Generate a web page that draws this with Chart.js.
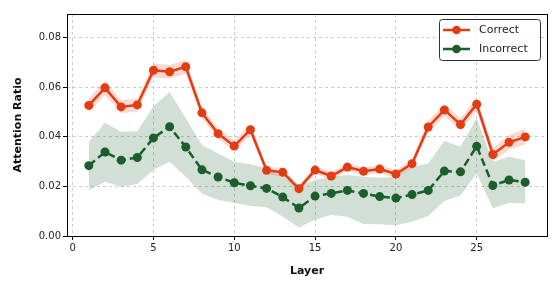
<!DOCTYPE html>
<html>
<head>
<meta charset="utf-8">
<script src="https://cdn.jsdelivr.net/npm/chart.js@4"></script>
<style>
  html, body { margin: 0; padding: 0; background: #fff; }
  #wrap { width: 560px; height: 289px; position: relative; }
</style>
</head>
<body>
<div id="wrap"><canvas id="chart"></canvas></div>
<script>
/* ── Data ─────────────────────────────────────────────────────────────── */
const layers = [1, 2, 3, 4, 5, 6, 7, 8, 9, 10, 11, 12, 13, 14, 15, 16, 17, 18, 19, 20, 21, 22, 23, 24, 25, 26, 27, 28];

const correct = [0.0527, 0.0598, 0.0521, 0.0529, 0.0669, 0.0663, 0.0683, 0.0497, 0.0413, 0.0363,
                 0.0429, 0.0265, 0.0257, 0.0191, 0.0266, 0.0242, 0.0278, 0.0261, 0.0270, 0.0250,
                 0.0292, 0.0440, 0.0509, 0.0450, 0.0532, 0.0329, 0.0378, 0.0400];
const correctUpper = [0.0555, 0.0628, 0.0547, 0.0555, 0.0697, 0.0690, 0.0711, 0.0520, 0.0435, 0.0384,
                      0.0450, 0.0281, 0.0273, 0.0205, 0.0282, 0.0258, 0.0294, 0.0277, 0.0286, 0.0266,
                      0.0310, 0.0464, 0.0534, 0.0474, 0.0558, 0.0356, 0.0408, 0.0432];
const correctLower = [0.0499, 0.0568, 0.0495, 0.0503, 0.0641, 0.0636, 0.0655, 0.0474, 0.0391, 0.0342,
                      0.0408, 0.0249, 0.0241, 0.0177, 0.0250, 0.0226, 0.0262, 0.0245, 0.0254, 0.0234,
                      0.0274, 0.0416, 0.0484, 0.0426, 0.0506, 0.0302, 0.0348, 0.0368];

const incorrect = [0.0284, 0.0339, 0.0306, 0.0317, 0.0396, 0.0441, 0.0359, 0.0267, 0.0238, 0.0215,
                   0.0203, 0.0192, 0.0157, 0.0113, 0.0161, 0.0172, 0.0184, 0.0172, 0.0159, 0.0153,
                   0.0167, 0.0184, 0.0262, 0.0259, 0.0362, 0.0204, 0.0226, 0.0217];
const incorrectUpper = [0.0380, 0.0457, 0.0421, 0.0423, 0.0524, 0.0581, 0.0475, 0.0367, 0.0333, 0.0300,
                        0.0290, 0.0273, 0.0239, 0.0199, 0.0226, 0.0239, 0.0246, 0.0239, 0.0235, 0.0239,
                        0.0280, 0.0293, 0.0384, 0.0360, 0.0475, 0.0300, 0.0320, 0.0306];
const incorrectLower = [0.0185, 0.0219, 0.0199, 0.0210, 0.0266, 0.0300, 0.0239, 0.0172, 0.0145, 0.0134,
                        0.0121, 0.0116, 0.0078, 0.0034, 0.0067, 0.0085, 0.0078, 0.0048, 0.0047, 0.0043,
                        0.0058, 0.0081, 0.0141, 0.0163, 0.0253, 0.0112, 0.0134, 0.0132];

const xTicks = [0, 5, 10, 15, 20, 25];
const yTicks = [0.00, 0.02, 0.04, 0.06, 0.08];

/* ── Style ────────────────────────────────────────────────────────────── */
const RED = '#e23c12';
const GREEN = '#1b5e2a';
const FONT = "'DejaVu Sans', sans-serif";

const pts = arr => arr.map((v, i) => ({ x: layers[i], y: v }));

function band(data, color, order) {
  return {
    data: pts(data), borderWidth: 0, borderColor: 'rgba(0,0,0,0)', pointRadius: 0, pointHoverRadius: 0,
    backgroundColor: color, fill: false, order, tension: 0,
  };
}

/* ── Plugins: frame + legend box ──────────────────────────────────────── */
const framePlugin = {
  id: 'frame',
  afterDraw(chart) {
    const { ctx, chartArea: a } = chart;
    ctx.save();
    ctx.strokeStyle = '#000';
    ctx.lineWidth = 1;
    ctx.strokeRect(Math.round(a.left) + 0.5, Math.round(a.top) + 0.5,
                   Math.round(a.right - a.left), Math.round(a.bottom - a.top));

    // legend
    const items = [
      { label: 'Correct', color: RED },
      { label: 'Incorrect', color: GREEN },
    ];
    const bx = 439.5, by = 19.5, bw = 101, bh = 41, r = 3;
    ctx.fillStyle = 'rgba(255,255,255,0.85)';
    ctx.strokeStyle = '#333';
    ctx.lineWidth = 1;
    ctx.beginPath();
    ctx.roundRect(bx, by, bw, bh, r);
    ctx.fill();
    ctx.stroke();
    ctx.font = '11px ' + FONT;
    ctx.textBaseline = 'middle';
    items.forEach((it, i) => {
      const y = 30 + i * 19;
      ctx.strokeStyle = it.color;
      ctx.lineWidth = 2.5;
      ctx.beginPath();
      ctx.moveTo(443, y);
      ctx.lineTo(470, y);
      ctx.stroke();
      ctx.fillStyle = it.color;
      ctx.beginPath();
      ctx.arc(456.5, y, 4.3, 0, Math.PI * 2);
      ctx.fill();
      ctx.fillStyle = '#222';
      ctx.fillText(it.label, 479, y + 0.5);
    });
    ctx.restore();
  },
};

const gridOpts = {
  color: '#cccccc', drawTicks: true, tickLength: 4,
  tickColor: '#000', tickBorderDash: [],
};

/* ── Chart ────────────────────────────────────────────────────────────── */
const cfg = {
  type: 'line',
  data: {
    datasets: [
      {
        label: 'Correct', data: pts(correct), borderColor: RED, backgroundColor: RED,
        borderWidth: 2.5, pointRadius: 4.5, pointBorderWidth: 0, fill: false, order: 1, tension: 0,
      },
      {
        label: 'Incorrect', data: pts(incorrect), borderColor: GREEN, backgroundColor: GREEN,
        borderWidth: 2.5, borderDash: [8, 4], pointRadius: 4.5, pointBorderWidth: 0,
        fill: false, order: 2, tension: 0,
      },
      Object.assign(band(correctUpper, 'rgba(236,80,50,0.22)', 4), { fill: '+1' }),
      band(correctLower, 'rgba(236,80,50,0.22)', 4),
      Object.assign(band(incorrectUpper, 'rgba(27,94,42,0.2)', 5), { fill: '+1' }),
      band(incorrectLower, 'rgba(27,94,42,0.2)', 5),
    ],
  },
  options: {
    responsive: true,
    maintainAspectRatio: false,
    animation: false,
    layout: { padding: { top: 14, right: 13, left: 12, bottom: 11 } },
    plugins: {
      legend: { display: false }, tooltip: { enabled: false },
      filler: { drawTime: 'beforeDatasetsDraw' },
    },
    scales: {
      x: {
        type: 'linear', min: -0.35, max: 29.35,
        afterBuildTicks: s => { s.ticks = xTicks.map(v => ({ value: v })); },
        afterFit: s => { s.height = 42; },
        grid: gridOpts,
        border: { display: false, dash: [3, 3] },
        ticks: { color: '#222', font: { family: FONT, size: 10 }, padding: 2, maxRotation: 0 },
        title: {
          display: true, text: 'Layer', color: '#111',
          font: { family: FONT, size: 11, weight: 'bold' }, padding: { top: 4, bottom: 0 },
        },
      },
      y: {
        min: 0, max: 0.0896,
        afterBuildTicks: s => { s.ticks = yTicks.map(v => ({ value: v })); },
        afterFit: s => { s.width = 55; },
        grid: gridOpts,
        border: { display: false, dash: [3, 3] },
        ticks: {
          color: '#222', font: { family: FONT, size: 10 }, padding: 2,
          callback: v => v.toFixed(2),
        },
        title: {
          display: true, text: 'Attention Ratio', color: '#111',
          font: { family: FONT, size: 11, weight: 'bold' }, padding: { top: 0, bottom: 4 },
        },
      },
    },
  },
  plugins: [framePlugin],
};

new Chart(document.getElementById('chart'), cfg);
</script>
</body>
</html>
